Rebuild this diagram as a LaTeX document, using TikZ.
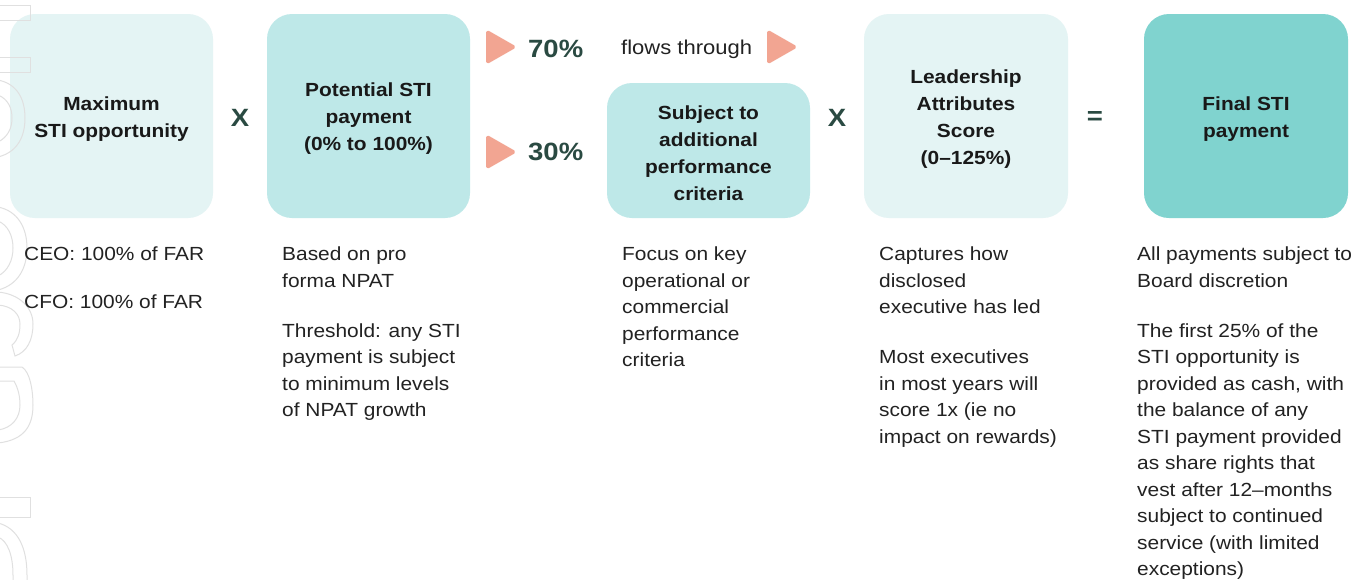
\documentclass[tikz,border=0pt]{standalone}
\usepackage{fontspec}
\setmainfont[FakeStretch=1.1]{Liberation Sans}
\definecolor{boxlight}{HTML}{E4F4F4}
\definecolor{boxmid}{HTML}{BEE8E8}
\definecolor{boxdark}{HTML}{80D3CF}
\definecolor{salmon}{HTML}{F2A592}
\definecolor{darkgreen}{HTML}{2A4A42}
\definecolor{bodytext}{HTML}{222222}
\definecolor{wmark}{HTML}{E0E0E0}
\tikzset{
  card/.style={rounded corners=25pt, draw=none},
  cardtext/.style={align=center, inner sep=0pt, font=\fontsize{19}{27}\selectfont\bfseries, text=black!90},
  optext/.style={inner sep=0pt, font=\fontsize{25}{27}\selectfont\bfseries, text=darkgreen},
  pcttext/.style={inner sep=0pt, anchor=west, font=\fontsize{25}{27}\selectfont\bfseries, text=darkgreen},
  desc/.style={align=left, anchor=north west, inner sep=0pt, font=\fontsize{19}{26.5}\selectfont, text=bodytext},
  tri/.style={fill=salmon, draw=salmon, line width=2pt, line join=round, rounded corners=1.5pt},
  wm/.style={draw=wmark, line width=1pt},
}
\begin{document}
\begin{tikzpicture}[x=1pt,y=-1pt]
\useasboundingbox (0,0) rectangle (1370,579);
\fill[white] (0,0) rectangle (1370,579);

% cards
\fill[card, boxlight] (10,14) rectangle (213,218);
\fill[card, boxmid] (267,14) rectangle (470,218);
\fill[card, boxmid] (607,83) rectangle (810,218);
\fill[card, boxlight] (864,14) rectangle (1068,218);
\fill[card, boxdark] (1144,14) rectangle (1348,218);

% faint watermark outlines at the left edge
\draw[wm] (-2,5) -- (30,5) -- (30,20) -- (-2,20);
\draw[wm] (-2,57) -- (30,57) -- (30,72) -- (-2,72);
\draw[wm] (-2,80) .. controls (18,84) and (25,100) .. (25,118) .. controls (25,136) and (18,152) .. (-2,157);
\draw[wm] (-2,95) .. controls (8,99) and (12,108) .. (12,118) .. controls (12,128) and (8,137) .. (-2,142);
\draw[wm] (-2,207) .. controls (18,211) and (27,228) .. (27,248) .. controls (27,268) and (18,285) .. (-2,290);
\draw[wm] (-2,221) .. controls (8,225) and (13,236) .. (13,248) .. controls (13,260) and (8,271) .. (-2,276);
\draw[wm] (-2,292) .. controls (20,294) and (33,308) .. (33,324) .. controls (33,340) and (27,352) .. (15,356) -- (12,345) .. controls (18,340) and (20,333) .. (20,324) .. controls (20,314) and (12,306) .. (-2,305);
\draw[wm] (-2,367) -- (22,367) .. controls (30,372) and (33,390) .. (33,405) .. controls (33,425) and (25,440) .. (-2,443);
\draw[wm] (-2,381) -- (14,381) .. controls (18,388) and (20,396) .. (20,405) .. controls (20,418) and (12,428) .. (-2,430);
\draw[wm] (-2,497) -- (30,497) -- (30,517) -- (-2,517);
\draw[wm] (-2,523) .. controls (18,528) and (27,548) .. (27,575) -- (27,581);
\draw[wm] (-2,537) .. controls (8,541) and (13,556) .. (13,575) -- (13,581);

\node[cardtext] (c1) at (111.5,119) {Maximum\\STI opportunity};
\node[cardtext] (c2) at (368.5,119) {Potential STI\\payment\\(0\% to 100\%)};
\node[cardtext] (c3) at (708.5,153) {Subject to\\additional\\performance\\criteria};
\node[cardtext] (c4) at (966,119) {Leadership\\Attributes\\Score\\(0--125\%)};
\node[cardtext] (c5) at (1246,119) {Final STI\\payment};

% operators
\node[optext] (x1) at (240,118) {X};
\node[optext] (x2) at (837,118) {X};
\node[optext] (eq) at (1095,118) {=};

% triangles
\draw[tri] (487,31) -- (515,47) -- (487,63) -- cycle;
\draw[tri] (487,136) -- (515,152) -- (487,168) -- cycle;
\draw[tri] (768,31) -- (796,47) -- (768,63) -- cycle;

\node[pcttext] (p70) at (528,49) {70\%};
\node[pcttext] (p30) at (528,152) {30\%};
\node[anchor=west, inner sep=0pt, font=\fontsize{20}{24}\selectfont, text=bodytext] (flow) at (621,49) {flows through};

% descriptions
\node[desc] (d1) at (24,247) {CEO: 100\% of FAR\\[21.5pt]CFO: 100\% of FAR};
\node[desc] (d2) at (282,247) {Based on pro\\forma NPAT\\[23.5pt]Threshold: any STI\\payment is subject\\to minimum levels\\of NPAT growth};
\node[desc] (d3) at (622,247) {Focus on key\\operational or\\commercial\\performance\\criteria};
\node[desc] (d4) at (879,247) {Captures how\\disclosed\\executive has led\\[23.5pt]Most executives\\in most years will\\score 1x (ie no\\impact on rewards)};
\node[desc] (d5) at (1137,247) {All payments subject to\\Board discretion\\[23.5pt]The first 25\% of the\\STI opportunity is\\provided as cash, with\\the balance of any\\STI payment provided\\as share rights that\\vest after 12--months\\subject to continued\\service (with limited\\exceptions)};
\end{tikzpicture}
\end{document}
